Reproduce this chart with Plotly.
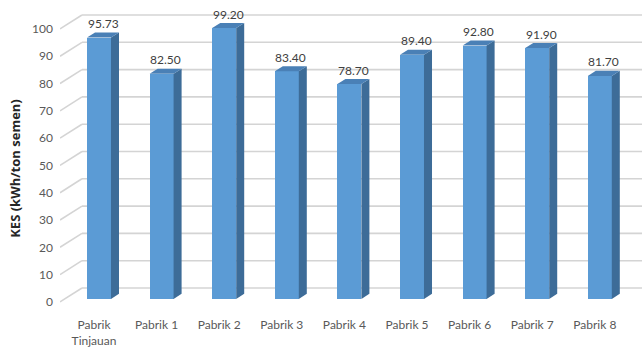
import plotly.graph_objects as go

# KES per plant (kWh/ton semen)
categories = ["Pabrik<br>Tinjauan", "Pabrik 1", "Pabrik 2", "Pabrik 3", "Pabrik 4",
              "Pabrik 5", "Pabrik 6", "Pabrik 7", "Pabrik 8"]
values = [95.73, 82.50, 99.20, 83.40, 78.70, 89.40, 92.80, 91.90, 81.70]
value_labels = ["95.73", "82.50", "99.20", "83.40", "78.70", "89.40", "92.80", "91.90", "81.70"]
y_ticks = [0, 10, 20, 30, 40, 50, 60, 70, 80, 90, 100]
y_title = "KES (kWh/ton semen)"

# 3D look parameters (in axis units)
BAR_W = 0.383          # front face width
DEPTH_X = 0.128        # side face horizontal offset
DEPTH_Y = 1.85         # top face vertical offset
WALL_X0 = -0.272       # where the back wall starts
WALL_RISE = 4.0        # back-wall gridline rise relative to front plane
FRONT_DROP = 1.1       # front edge of side wall relative to value
X_RANGE = [-0.623, 8.674]
Y_RANGE = [-2.6, 109.5]

FRONT = "#5B9BD5"
SIDE = "#3D6C98"
TOP = "#4A80B6"
GRID = "#D4D4D4"

xs = list(range(len(categories)))
fig = go.Figure()

# back-wall gridlines and side-wall diagonals
shapes = []
for t in y_ticks:
    shapes.append(dict(type="line", xref="x", yref="y", layer="below",
                       x0=WALL_X0, x1=X_RANGE[1], y0=t + WALL_RISE, y1=t + WALL_RISE,
                       line=dict(color=GRID, width=1.6)))
    shapes.append(dict(type="line", xref="x", yref="y", layer="below",
                       x0=X_RANGE[0], x1=WALL_X0, y0=t - FRONT_DROP, y1=t + WALL_RISE,
                       line=dict(color=GRID, width=1.6)))

# front faces
fig.add_trace(go.Bar(x=xs, y=values, width=BAR_W, marker=dict(color=FRONT, line=dict(width=0)),
                     hoverinfo="skip", showlegend=False))

# side and top faces
for x, v in zip(xs, values):
    r = x + BAR_W / 2
    l = x - BAR_W / 2
    fig.add_trace(go.Scatter(
        x=[r, r + DEPTH_X, r + DEPTH_X, r, r],
        y=[0, DEPTH_Y, v + DEPTH_Y, v, 0],
        fill="toself", fillcolor=SIDE, mode="lines", line=dict(width=0),
        hoverinfo="skip", showlegend=False))
    fig.add_trace(go.Scatter(
        x=[l, r, r + DEPTH_X, l + DEPTH_X, l],
        y=[v, v, v + DEPTH_Y, v + DEPTH_Y, v],
        fill="toself", fillcolor=TOP, mode="lines", line=dict(width=0),
        hoverinfo="skip", showlegend=False))

# value labels
annotations = []
for x, v, lab in zip(xs, values, value_labels):
    annotations.append(dict(x=x, y=v, xref="x", yref="y", text=lab, showarrow=False,
                            xshift=4, yshift=14, yanchor="middle",
                            font=dict(family="Lato", size=12, color="#404040")))

# y-axis title
annotations.append(dict(x=-0.0765, y=0.45, xref="paper", yref="paper",
                        text="<b>" + y_title + "</b>", textangle=-90, showarrow=False,
                        xanchor="center", yanchor="middle",
                        font=dict(family="Open Sans", size=13, color="#262626")))

fig.update_layout(
    width=642, height=349,
    margin=dict(l=60, r=0, t=0, b=43),
    plot_bgcolor="white", paper_bgcolor="white",
    shapes=shapes, annotations=annotations,
    bargap=0,
    xaxis=dict(range=X_RANGE, tickvals=[x - 0.08 for x in xs], ticktext=categories,
               showgrid=False, zeroline=False, showline=False, ticks="",
               tickfont=dict(family="Lato", size=12, color="#595959"),
               ticklabelstandoff=10),
    yaxis=dict(range=Y_RANGE, tickvals=[t - FRONT_DROP for t in y_ticks],
               ticktext=[str(t) for t in y_ticks],
               showgrid=False, zeroline=False, showline=False, ticks="",
               tickfont=dict(family="Lato", size=12, color="#595959"),
               ticklabelstandoff=6),
)

fig.write_html("out.html")
